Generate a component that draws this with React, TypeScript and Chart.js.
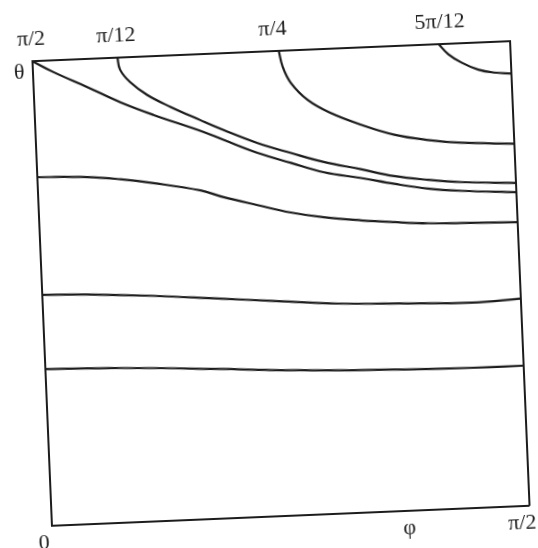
import { useEffect, useRef } from 'react';
import { Chart, registerables } from 'chart.js';

Chart.register(...registerables);

// φ (degrees, 0..90 = 0..π/2) and θ (degrees), one pair of arrays per contour
const phiCorner = [0, 3.9, 10.2, 16.3, 22.4, 31.2, 35.4, 41.7, 47.9, 54.1, 61.0, 67.2, 73.5, 79.8, 90];
const thetaCorner = [90, 87.7, 84.5, 81.3, 78.6, 75.1, 73.2, 70.4, 68.2, 66.1, 64.7, 63.3, 62.1, 61.4, 60.7];

const phiPi12 = [16.1, 16.5, 18.3, 21.4, 25.7, 31.2, 35.5, 41.8, 48.0, 54.1, 61.0, 67.2, 73.6, 79.8, 90];
const thetaPi12 = [90, 87.6, 85.1, 82.5, 80.0, 77.2, 75.1, 72.3, 70.1, 68.1, 66.4, 64.8, 63.8, 63.1, 62.5];

const phiPi4 = [46.5, 47.1, 48.5, 51.6, 55.8, 61.4, 67.6, 73.9, 80.1, 90];
const thetaPi4 = [90, 86.9, 83.7, 80.2, 77.5, 75.0, 72.8, 71.5, 70.7, 70.1];

const phi5Pi12 = [76.6, 78.4, 80.8, 83.9, 86.9, 90];
const theta5Pi12 = [90, 87.9, 86.2, 84.7, 84.0, 83.7];

const phiLevelA = [0, 9.5, 15.7, 21.9, 30.7, 35.0, 41.3, 47.5, 53.7, 60.7, 66.9, 73.3, 79.5, 90];
const thetaLevelA = [67.5, 67.1, 66.4, 65.4, 63.6, 62.1, 60.3, 58.6, 57.4, 56.5, 55.9, 55.4, 55.2, 54.9];

const phiLevelB = [0, 8.5, 21.0, 33.6, 43.0, 55.7, 68.1, 80.8, 90];
const thetaLevelB = [44.7, 44.4, 43.6, 42.5, 41.7, 40.6, 40.1, 39.7, 40.1];

const phiLevelC = [0, 14.2, 33.1, 42.5, 61.4, 80.2, 90];
const thetaLevelC = [30.3, 29.9, 28.9, 28.3, 27.5, 27.1, 27.1];

// tick labels
const topTickValues = [0, 16, 45.5, 77];
const topTickLabels = ['π/2', 'π/12', 'π/4', '5π/12'];
const bottomTickValues = [-1.5, 67.4, 88.6];
const bottomTickLabels = ['0', 'φ', 'π/2'];
const leftTickValues = [87.8];
const leftTickLabels = ['θ'];

const INK = '#1c1c1c';
const FONT = { family: "'Liberation Serif', 'DejaVu Serif', serif", size: 22 };

function makeAxis(position: string, size: number, values: number[], labels: string[], padding: number) {
  const horizontal = position === 'top' || position === 'bottom';
  return {
    type: 'linear',
    position,
    min: 0,
    max: 90,
    grid: { display: false, drawTicks: false },
    border: { display: true, color: INK, width: 2 },
    ticks: {
      display: labels.length > 0,
      autoSkip: false,
      maxRotation: 0,
      minRotation: 0,
      padding,
      color: INK,
      font: FONT,
      callback: (_v: any, i: number) => labels[i] ?? '',
    },
    afterBuildTicks: (s: any) => {
      if (values.length) s.ticks = values.map((v) => ({ value: v }));
    },
    afterFit: (s: any) => {
      if (horizontal) s.height = size;
      else s.width = size;
    },
  };
}

export default function App() {
  const ref = useRef<HTMLCanvasElement>(null);

  useEffect(() => {
    const canvas = ref.current;
    if (!canvas) return;
    const pairs: [number[], number[]][] = [
      [phiCorner, thetaCorner],
      [phiPi12, thetaPi12],
      [phiPi4, thetaPi4],
      [phi5Pi12, theta5Pi12],
      [phiLevelA, thetaLevelA],
      [phiLevelB, thetaLevelB],
      [phiLevelC, thetaLevelC],
    ];
    const chart = new Chart(canvas, {
      type: 'line',
      data: {
        datasets: pairs.map(([px, ty], k) => ({
          label: 'c' + k,
          data: px.map((p, i) => ({ x: p, y: ty[i] })),
          borderColor: INK,
          borderWidth: 2.2,
          pointRadius: 0,
          fill: false,
          tension: 0.4,
          xAxisID: 'x',
          yAxisID: 'y',
        })),
      },
      options: {
        animation: false,
        responsive: false,
        events: [],
        layout: { padding: 0 },
        plugins: { legend: { display: false }, tooltip: { enabled: false } },
        scales: {
          x: makeAxis('bottom', 32.25, bottomTickValues, bottomTickLabels, 4),
          xTop: makeAxis('top', 50.75, topTickValues, topTickLabels, 8),
          y: makeAxis('left', 41.5, leftTickValues, leftTickLabels, 8),
          yRight: makeAxis('right', 18.5, [], [], 0),
        },
      } as any,
    } as any);
    return () => chart.destroy();
  }, []);

  return (
    <div
      style={{
        position: 'fixed',
        left: 0,
        top: 0,
        width: 538,
        height: 548,
        background: '#ffffff',
        overflow: 'hidden',
      }}
    >
      <canvas
        ref={ref}
        width={538}
        height={548}
        style={{
          display: 'block',
          width: 538,
          height: 548,
          transform: 'rotate(-2.4deg)',
          transformOrigin: '280.5px 283.25px',
        }}
      />
    </div>
  );
}
